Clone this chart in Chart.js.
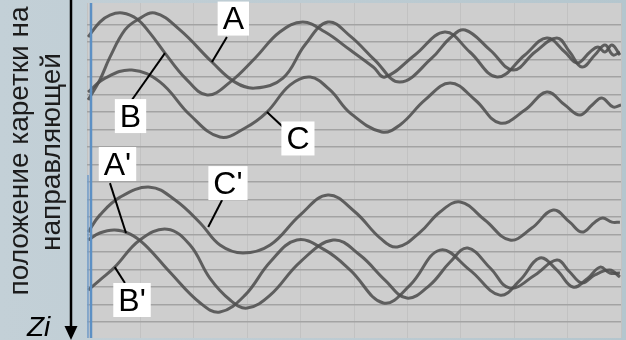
<!DOCTYPE html>
<html>
<head>
<meta charset="utf-8">
<script src="https://cdn.jsdelivr.net/npm/chart.js@4.4.0/dist/chart.umd.min.js"></script>
<style>
  html, body { margin: 0; padding: 0; }
  body { width: 626px; height: 340px; background: linear-gradient(90deg, #c3d0d7, #bccbd2 60%, #b4c6ce); }
</style>
</head>
<body>
<canvas id="chart" width="626" height="340"></canvas>
<script>
// положение по оси времени (0..100) и координата Zi (в делениях сетки, вниз)
const tB = [0.2, 2.4, 4.3, 6.6, 9.4, 11.8, 14.6, 18.4, 22.5, 26.8, 31.5, 36.1, 40.4, 44.6, 49.3, 53.6, 55.8, 61.4, 67.0, 71.7, 76.8, 82.0, 86.1, 89.5, 91.8, 94.2, 95.7, 97.0, 98.3, 99.8];
const zB = [1.71, 0.86, 0.46, 0.34, 0.69, 1.49, 2.63, 4.06, 5.03, 4.29, 2.91, 1.43, 0.86, 1.43, 2.46, 3.43, 4.00, 2.74, 1.43, 2.57, 4.00, 2.74, 1.77, 2.57, 3.20, 2.57, 2.29, 2.57, 2.17, 2.74];

const tA = [0.2, 2.4, 4.3, 7.1, 9.4, 12.7, 17.4, 23.4, 27.7, 31.5, 36.7, 40.8, 45.1, 49.3, 53.9, 58.6, 64.6, 68.0, 70.8, 75.5, 79.8, 83.9, 88.0, 90.4, 92.7, 95.1, 97.0, 98.5, 99.8];
const zA = [5.31, 4.17, 2.86, 1.31, 0.74, 0.34, 1.31, 3.14, 4.29, 4.63, 4.06, 2.17, 0.86, 1.66, 3.03, 4.29, 2.91, 1.77, 1.31, 2.46, 3.60, 2.57, 1.77, 2.57, 3.43, 2.74, 2.17, 2.74, 2.57];

const tC = [0.2, 3.4, 8.4, 13.7, 19.3, 24.9, 29.6, 33.7, 38.0, 41.8, 45.5, 49.3, 55.2, 58.6, 63.3, 68.0, 72.7, 77.3, 82.0, 86.1, 89.5, 92.3, 94.6, 96.4, 98.5, 100];
const zC = [4.86, 4.06, 3.60, 4.29, 6.17, 7.43, 6.91, 6.00, 4.46, 4.00, 4.74, 6.06, 7.14, 6.74, 5.31, 4.34, 5.31, 6.63, 5.89, 4.86, 5.60, 6.17, 5.60, 5.20, 5.71, 5.60];

const tC2 = [0.2, 2.4, 6.2, 11.8, 16.5, 21.2, 24.9, 29.2, 34.3, 39.9, 45.1, 50.2, 54.9, 58.1, 62.4, 66.1, 69.9, 74.5, 79.2, 83.3, 87.3, 90.4, 92.7, 95.1, 96.6, 98.3, 99.8];
const zC2 = [12.86, 11.89, 10.86, 10.29, 11.03, 12.34, 13.60, 14.06, 13.60, 11.89, 10.74, 11.71, 13.20, 13.71, 12.86, 11.71, 11.14, 12.17, 13.31, 12.63, 11.60, 12.29, 12.86, 12.29, 12.06, 12.29, 12.29];

const tA2 = [0.2, 2.4, 5.2, 8.1, 10.9, 15.5, 21.2, 24.9, 29.6, 34.3, 39.3, 44.6, 49.3, 55.5, 60.5, 66.1, 71.7, 77.3, 81.1, 84.8, 88.0, 91.0, 93.8, 96.1, 97.9, 99.8];
const zA2 = [13.31, 12.91, 12.74, 12.97, 13.60, 15.14, 16.91, 17.43, 16.46, 14.57, 13.31, 13.89, 15.03, 16.91, 15.89, 13.89, 15.03, 16.46, 15.60, 14.34, 15.03, 16.00, 15.49, 14.86, 15.20, 15.20];

const tB2 = [0.2, 2.4, 5.2, 9.9, 15.0, 19.3, 23.0, 26.8, 30.0, 34.3, 39.9, 46.1, 51.1, 55.8, 59.9, 64.2, 68.0, 71.3, 75.5, 79.2, 83.9, 88.0, 90.4, 92.7, 95.1, 97.9, 99.8];
const zB2 = [16.17, 15.60, 14.86, 13.31, 12.69, 13.60, 15.49, 16.74, 17.20, 16.46, 14.57, 13.31, 14.17, 15.60, 16.63, 15.89, 14.57, 13.77, 14.91, 16.06, 15.31, 14.46, 15.14, 15.77, 15.31, 15.03, 15.43];

// подписи кривых
const labelNames = ["A", "B", "C", "A'", "B'", "C'"];
const labelX = [27.4, 8.15, 39.5, 5.71, 8.43, 26.4];
const labelY = [0.66, 6.23, 7.51, 8.97, 16.74, 10.06];
const leadFrom = [[26.2, 1.71], [8.4, 5.31], [36.7, 6.86], [4.3, 10.06], [7.1, 15.77], [25.3, 11.03]];
const leadTo = [[23.4, 3.14], [14.6, 2.63], [33.7, 6.00], [7.3, 12.91], [5.2, 14.86], [22.7, 12.57]];

function points(t, z) {
  return t.map((v, i) => ({ x: v, y: z[i] }));
}

const curves = [[tA, zA], [tB, zB], [tC, zC], [tA2, zA2], [tB2, zB2], [tC2, zC2]];

const decor = {
  id: "decor",
  beforeDraw(chart) {
    const { ctx, chartArea: a } = chart;
    ctx.save();
    ctx.fillStyle = "#cecece";
    ctx.fillRect(a.left, a.top, a.right - a.left, a.bottom - a.top);
    ctx.restore();
  },
  afterDatasetsDraw(chart) {
    const { ctx, chartArea: a, scales } = chart;
    const x = scales.x, y = scales.y;
    ctx.save();
    // синяя линия слева
    ctx.strokeStyle = "#5d90c4";
    ctx.lineWidth = 2.5;
    ctx.beginPath();
    ctx.moveTo(a.left + 4, a.top);
    ctx.lineTo(a.left + 4, a.bottom);
    ctx.stroke();
    ctx.lineWidth = 1.5;
    ctx.strokeStyle = "#6f9dcb";
    ctx.beginPath();
    ctx.moveTo(a.left + 1, 175);
    ctx.lineTo(a.left + 1, a.bottom);
    ctx.stroke();

    // подписи A, B, C ...
    ctx.font = '32px "Liberation Sans", Arial, sans-serif';
    ctx.textAlign = "center";
    ctx.textBaseline = "middle";
    labelNames.forEach((name, i) => {
      ctx.strokeStyle = "#000";
      ctx.lineWidth = 2;
      ctx.beginPath();
      ctx.moveTo(x.getPixelForValue(leadFrom[i][0]), y.getPixelForValue(leadFrom[i][1]));
      ctx.lineTo(x.getPixelForValue(leadTo[i][0]), y.getPixelForValue(leadTo[i][1]));
      ctx.stroke();
      const cx = x.getPixelForValue(labelX[i]);
      const cy = y.getPixelForValue(labelY[i]);
      const w = ctx.measureText(name).width + 10;
      const h = 34;
      ctx.fillStyle = "#fff";
      ctx.fillRect(cx - w / 2, cy - h / 2, w, h);
      ctx.fillStyle = "#000";
      ctx.fillText(name, cx, cy + 2);
    });
    ctx.restore();
  },
  afterDraw(chart) {
    const { ctx } = chart;
    ctx.save();
    ctx.fillStyle = "#1c1c1c";
    ctx.font = '28px "Liberation Sans", Arial, sans-serif';
    ctx.textAlign = "center";
    ctx.textBaseline = "alphabetic";
    ctx.translate(28, 151);
    ctx.rotate(-Math.PI / 2);
    ctx.fillText("положение каретки на", 0, 0);
    ctx.restore();
    ctx.save();
    ctx.fillStyle = "#1c1c1c";
    ctx.font = '28px "Liberation Sans", Arial, sans-serif';
    ctx.textAlign = "center";
    ctx.translate(60, 152);
    ctx.rotate(-Math.PI / 2);
    ctx.fillText("направляющей", 0, 0);
    ctx.restore();

    // ось Zi со стрелкой
    ctx.save();
    ctx.strokeStyle = "#000";
    ctx.fillStyle = "#000";
    ctx.lineWidth = 2.5;
    ctx.beginPath();
    ctx.moveTo(71, 0);
    ctx.lineTo(71, 330);
    ctx.stroke();
    ctx.beginPath();
    ctx.moveTo(64.5, 326);
    ctx.lineTo(77.5, 326);
    ctx.lineTo(71, 340);
    ctx.closePath();
    ctx.fill();
    ctx.font = 'italic 28px "Liberation Sans", Arial, sans-serif';
    ctx.textAlign = "left";
    ctx.fillText("Zi", 27, 336);
    ctx.restore();
  }
};

new Chart(document.getElementById("chart"), {
  type: "line",
  data: {
    datasets: curves.map(c => ({
      data: points(c[0], c[1]),
      borderColor: "rgba(78,78,78,0.88)",
      borderWidth: 3,
      pointRadius: 0,
      fill: false,
      tension: 0.4
    }))
  },
  options: {
    responsive: false,
    animation: false,
    layout: { padding: { left: 87, top: 3, right: 5, bottom: 2 } },
    plugins: { legend: { display: false }, tooltip: { enabled: false } },
    scales: {
      x: {
        type: "linear",
        min: 0,
        max: 100,
        ticks: { display: false, stepSize: 10 },
        grid: { color: "#c2c2c2", lineWidth: 1, drawTicks: false },
        border: { display: false }
      },
      y: {
        type: "linear",
        reverse: true,
        min: -0.23,
        max: 18.91,
        ticks: { display: false, stepSize: 1 },
        grid: {
          color: c => Math.abs(c.tick.value - Math.round(c.tick.value)) < 1e-6 ? "#a3a3a3" : "rgba(0,0,0,0)",
          lineWidth: 1.5,
          drawTicks: false
        },
        border: { display: false }
      }
    }
  },
  plugins: [decor]
});
</script>
</body>
</html>
